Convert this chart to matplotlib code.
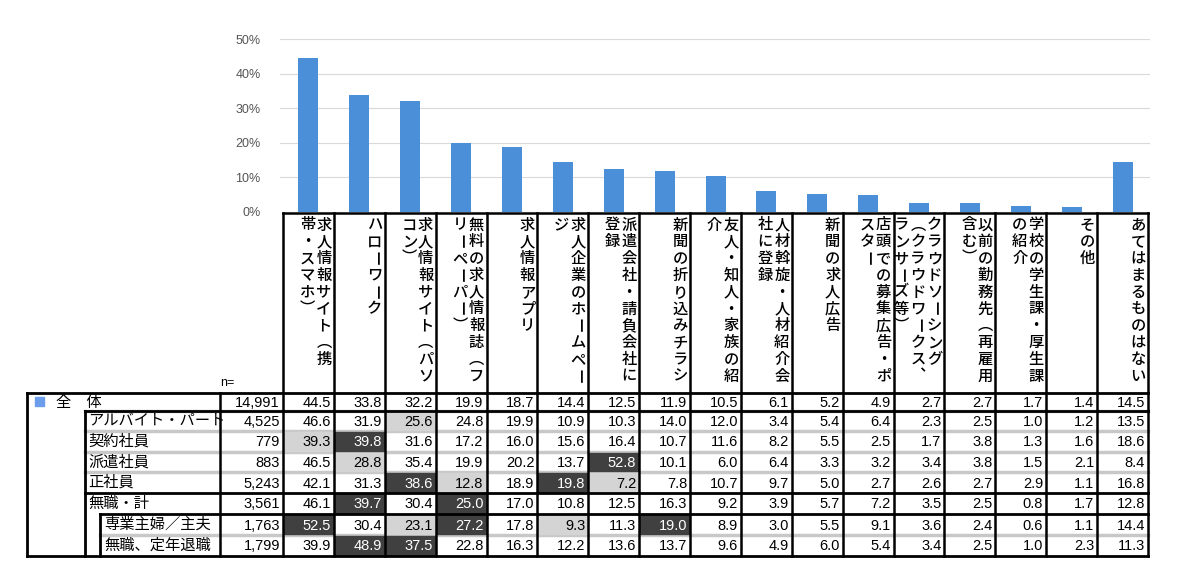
import matplotlib
matplotlib.use("Agg")
import matplotlib.pyplot as plt
from matplotlib.patches import Rectangle

headers = ["求人情報サイト（携\n帯・スマホ）", "ハローワーク", "求人情報サイト（パソ\nコン）",
           "無料の求人情報誌（フ\nリーペーパー）", "求人情報アプリ", "求人企業のホームペー\nジ",
           "派遣会社・請負会社に\n登録", "新聞の折り込みチラシ", "友人・知人・家族の紹\n介",
           "人材斡旋・人材紹介会\n社に登録", "新聞の求人広告", "店頭での募集広告・ポ\nスター",
           "クラウドソーシング\n（クラウドワークス、\nランサーズ等）", "以前の勤務先（再雇用\n含む）",
           "学校の学生課・厚生課\nの紹介", "その他", "あてはまるものはない"]
row_labels = ["全　体", "アルバイト・パート", "契約社員", "派遣社員", "正社員", "無職・計", "専業主婦／主夫", "無職、定年退職"]
n_values = ["14,991", "4,525", "779", "883", "5,243", "3,561", "1,763", "1,799"]
values = [
    [44.5, 33.8, 32.2, 19.9, 18.7, 14.4, 12.5, 11.9, 10.5, 6.1, 5.2, 4.9, 2.7, 2.7, 1.7, 1.4, 14.5],
    [46.6, 31.9, 25.6, 24.8, 19.9, 10.9, 10.3, 14.0, 12.0, 3.4, 5.4, 6.4, 2.3, 2.5, 1.0, 1.2, 13.5],
    [39.3, 39.8, 31.6, 17.2, 16.0, 15.6, 16.4, 10.7, 11.6, 8.2, 5.5, 2.5, 1.7, 3.8, 1.3, 1.6, 18.6],
    [46.5, 28.8, 35.4, 19.9, 20.2, 13.7, 52.8, 10.1, 6.0, 6.4, 3.3, 3.2, 3.4, 3.8, 1.5, 2.1, 8.4],
    [42.1, 31.3, 38.6, 12.8, 18.9, 19.8, 7.2, 7.8, 10.7, 9.7, 5.0, 2.7, 2.6, 2.7, 2.9, 1.1, 16.8],
    [46.1, 39.7, 30.4, 25.0, 17.0, 10.8, 12.5, 16.3, 9.2, 3.9, 5.7, 7.2, 3.5, 2.5, 0.8, 1.7, 12.8],
    [52.5, 30.4, 23.1, 27.2, 17.8, 9.3, 11.3, 19.0, 8.9, 3.0, 5.5, 9.1, 3.6, 2.4, 0.6, 1.1, 14.4],
    [39.9, 48.9, 37.5, 22.8, 16.3, 12.2, 13.6, 13.7, 9.6, 4.9, 6.0, 5.4, 3.4, 2.5, 1.0, 2.3, 11.3],
]
dark_cells = [(2, 1), (3, 6), (4, 2), (4, 5), (5, 1), (5, 3), (6, 0), (6, 3), (6, 7), (7, 1), (7, 2)]
light_cells = [(1, 2), (2, 0), (3, 1), (4, 3), (4, 6), (6, 2), (6, 5)]
y_ticks = [0, 10, 20, 30, 40, 50]

W, H = 1186, 583
fig = plt.figure(figsize=(W / 100, H / 100), dpi=100)
bg = fig.add_axes([0, 0, 1, 1])
bg.set_xlim(0, W); bg.set_ylim(H, 0); bg.axis("off")

JP = "Noto Sans CJK JP"
NUM = "Liberation Sans"
c0, c1 = 283, 1148
ncol = len(headers)
cw = (c1 - c0) / ncol

# bar chart
ax_l, ax_r, ax_t, ax_b = 280, 1150, 39, 212
ax = fig.add_axes([ax_l / W, 1 - ax_b / H, (ax_r - ax_l) / W, (ax_b - ax_t) / H])
ax.bar(range(ncol), values[0], width=20 / cw, color="#4a8fd8", zorder=3)
ax.set_xlim((ax_l - c0) / cw - 0.5, (ax_r - c0) / cw - 0.5)
ax.set_ylim(0, 50)
ax.set_yticks(y_ticks)
ax.set_yticklabels([f"{t}%" for t in y_ticks], fontsize=9, color="#555555", fontfamily=NUM)
ax.tick_params(length=0, pad=14)
ax.set_xticks([])
ax.grid(axis="y", color="#d9d9d9", lw=0.8, zorder=0)
for s in ax.spines.values():
    s.set_visible(False)
ax.patch.set_alpha(0)

# header (vertical text)
ht, hb = 213, 393
vert_forms = {"（": "\ufe35", "）": "\ufe36", "、": "\ufe11"}
for j, h in enumerate(headers):
    lines = h.split("\n")
    right = c0 + cw * (j + 1)
    for k, line in enumerate(lines):
        xc = right - 10 - k * 16.5
        for m, ch in enumerate(line):
            yc = ht + 12 + m * 16.8
            rot = -90 if ch == "ー" else 0
            bg.text(xc, yc, vert_forms.get(ch, ch), fontsize=11, fontfamily=JP, ha="center",
                    va="center", rotation=rot, fontweight="medium")
for j in range(ncol + 1):
    x = c0 + cw * j
    bg.plot([x, x], [ht, 556], color="black", lw=1.8)
bg.plot([c0, c1], [ht, ht], color="black", lw=1.8)
bg.text(220, 383, "n=", fontsize=9, fontfamily=NUM, ha="left", va="center")

# body rows
row_y = [393, 411, 431, 452, 472, 493, 514, 535, 556]
label_x = [40, 88, 88, 88, 88, 88, 104, 104]
for r in range(len(row_labels)):
    yt, yb = row_y[r], row_y[r + 1]
    ym = (yt + yb) / 2
    for j in range(ncol):
        xl = c0 + cw * j
        fc = None
        tc = "black"
        if (r, j) in dark_cells:
            fc, tc = "#404040", "white"
        elif (r, j) in light_cells:
            fc = "#d4d4d4"
        if fc:
            bg.add_patch(Rectangle((xl + 1, yt + 1), cw - 2, yb - yt - 2, color=fc, zorder=1))
        bg.text(xl + cw - 3, ym + 1, f"{values[r][j]:.1f}", fontsize=10.5, fontfamily=NUM,
                ha="right", va="center", color=tc, zorder=2)
    bg.text(280, ym + 1, n_values[r], fontsize=10.5, fontfamily=NUM, ha="right", va="center")
    if r == 0:
        bg.add_patch(Rectangle((35, ym - 5), 9, 9, color="#6d9eeb"))
        bg.text(56, ym, "全　体", fontsize=11, fontfamily=JP, ha="left", va="center")
    else:
        bg.text(label_x[r], ym, row_labels[r], fontsize=11, fontfamily=JP, ha="left", va="center")

# separators
for r in [1, 2, 3, 4, 7]:
    y = row_y[r]
    bg.plot([85 if r < 7 else 100, c1], [y, y], color="#c8c8c8", lw=2.5, zorder=0.5)
bg.plot([27, c1], [393, 393], color="black", lw=2)
bg.plot([85, c1], [411, 411], color="black", lw=2)
bg.plot([85, c1], [493, 493], color="black", lw=2)
bg.plot([100, c1], [514, 514], color="black", lw=2)
bg.plot([27, c1], [556, 556], color="black", lw=2)
bg.plot([27, 27], [393, 556], color="black", lw=2)
bg.plot([85, 85], [411, 556], color="black", lw=2)
bg.plot([100, 100], [514, 556], color="black", lw=2)
bg.plot([220, 220], [393, 556], color="black", lw=1.8)

fig.savefig("out.png", dpi=100)
